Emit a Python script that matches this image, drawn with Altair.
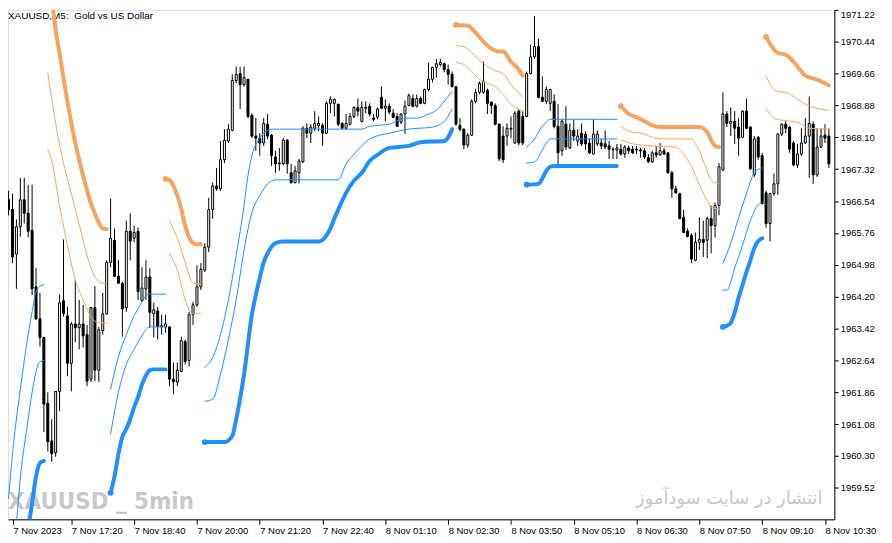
import altair as alt
import pandas as pd

# XAUUSD M5 candles, bar 0 = 7 Nov 16:00
opens = [
    1966.57, 1966.33, 1965.24, 1965.91, 1966.57, 1966.24, 1965.82, 1964.44, 1963.66, 1963.20,
    1961.59, 1960.67, 1960.38, 1961.88, 1964.10, 1963.73, 1962.57, 1963.53, 1963.44, 1963.53,
    1963.27, 1962.18, 1963.93, 1962.40, 1963.37, 1963.78, 1965.04, 1965.58, 1964.70, 1964.53,
    1963.93, 1965.80, 1965.63, 1965.80, 1964.10, 1964.39, 1964.68, 1963.78, 1963.85, 1963.46,
    1963.46, 1963.46, 1962.18, 1962.11, 1962.37, 1963.10, 1962.64, 1963.76, 1964.00, 1964.44,
    1964.85, 1965.41, 1966.33, 1966.91, 1966.84, 1967.55, 1968.01, 1968.27, 1969.49, 1969.66,
    1969.39, 1969.52, 1968.64, 1968.13, 1968.08, 1967.96, 1968.42, 1968.15, 1967.62, 1967.47,
    1967.45, 1968.03, 1967.23, 1966.99, 1967.23, 1967.50, 1968.32, 1968.20, 1968.32, 1968.39,
    1968.39, 1968.20, 1968.93, 1968.93, 1968.91, 1968.44, 1968.32, 1968.42, 1968.61, 1968.83,
    1968.49, 1968.81, 1968.86, 1968.57, 1968.59, 1969.08, 1968.81, 1968.86, 1968.69, 1968.61,
    1968.47, 1968.67, 1968.88, 1969.05, 1968.86, 1969.05, 1968.93, 1969.27, 1969.52, 1969.81,
    1969.88, 1969.90, 1969.76, 1969.64, 1969.34, 1968.39, 1968.30, 1967.91, 1968.15, 1968.98,
    1969.20, 1969.20, 1969.25, 1968.96, 1968.88, 1968.42, 1968.13, 1968.13, 1968.30, 1967.96,
    1968.74, 1968.61, 1968.61, 1969.66, 1970.07, 1970.32, 1969.08, 1968.98, 1968.93, 1968.98,
    1968.37, 1967.77, 1968.42, 1967.84, 1968.27, 1968.01, 1968.20, 1968.18, 1967.96, 1967.69,
    1967.94, 1967.96, 1967.94, 1967.89, 1967.81, 1967.79, 1967.81, 1967.69, 1967.84, 1967.81,
    1967.81, 1967.79, 1967.77, 1967.60, 1967.50, 1967.72, 1967.67, 1967.77, 1967.72, 1967.23,
    1966.84, 1966.72, 1966.14, 1965.80, 1965.70, 1965.09, 1965.53, 1965.60, 1965.58, 1966.11,
    1965.94, 1966.43, 1967.30, 1968.67, 1968.44, 1968.49, 1968.35, 1968.10, 1968.74, 1968.35,
    1967.18, 1968.10, 1967.65, 1966.74, 1965.99, 1966.72, 1966.96, 1968.18, 1968.42, 1968.35,
    1967.96, 1967.42, 1967.69, 1967.96, 1968.13, 1968.42, 1967.18, 1967.86, 1968.15, 1968.13,
]
highs = [
    1966.79, 1966.72, 1966.09, 1967.11, 1967.11, 1966.94, 1966.94, 1964.90, 1964.29, 1963.22,
    1961.86, 1961.20, 1961.88, 1964.26, 1965.60, 1963.95, 1963.58, 1964.61, 1964.12, 1964.00,
    1963.51, 1963.95, 1964.46, 1963.46, 1964.29, 1965.09, 1966.60, 1965.87, 1965.09, 1964.56,
    1966.06, 1966.24, 1965.94, 1965.89, 1964.92, 1965.09, 1964.90, 1964.05, 1963.95, 1963.76,
    1963.76, 1963.46, 1962.59, 1962.59, 1963.22, 1963.15, 1963.83, 1964.07, 1964.97, 1965.02,
    1965.51, 1966.62, 1966.99, 1967.35, 1968.01, 1968.30, 1968.42, 1969.64, 1969.83, 1969.83,
    1969.83, 1969.52, 1968.69, 1968.57, 1968.20, 1968.57, 1968.67, 1968.18, 1967.77, 1967.84,
    1968.08, 1968.06, 1967.45, 1967.40, 1967.57, 1968.37, 1968.44, 1968.42, 1968.74, 1968.61,
    1968.44, 1968.98, 1969.10, 1969.05, 1968.91, 1968.47, 1968.67, 1968.69, 1968.86, 1969.05,
    1968.98, 1968.98, 1968.93, 1968.67, 1968.83, 1969.34, 1969.03, 1968.93, 1968.79, 1968.69,
    1968.69, 1969.00, 1969.17, 1969.15, 1969.15, 1969.10, 1969.29, 1969.93, 1969.83, 1970.02,
    1970.02, 1969.93, 1969.88, 1969.71, 1969.34, 1968.57, 1968.32, 1968.20, 1969.03, 1969.29,
    1969.47, 1969.95, 1969.29, 1968.98, 1968.93, 1968.44, 1968.37, 1968.44, 1968.61, 1968.74,
    1968.79, 1968.74, 1969.71, 1970.37, 1971.07, 1970.51, 1969.59, 1969.34, 1969.29, 1969.15,
    1968.91, 1968.54, 1968.86, 1968.44, 1968.54, 1968.30, 1968.44, 1968.25, 1968.08, 1968.54,
    1968.27, 1968.06, 1968.27, 1968.01, 1967.86, 1967.94, 1967.94, 1967.91, 1967.89, 1967.89,
    1967.89, 1967.84, 1967.84, 1967.69, 1967.77, 1967.89, 1967.96, 1967.84, 1967.72, 1967.28,
    1966.91, 1966.74, 1966.33, 1965.87, 1965.75, 1965.77, 1966.14, 1966.06, 1966.16, 1966.43,
    1966.50, 1967.47, 1969.20, 1968.74, 1968.83, 1968.74, 1968.57, 1968.76, 1969.05, 1968.37,
    1968.13, 1968.13, 1967.72, 1966.79, 1966.74, 1967.21, 1968.20, 1968.44, 1968.49, 1968.37,
    1968.01, 1967.94, 1968.32, 1968.57, 1969.10, 1968.49, 1968.32, 1968.32, 1968.42, 1968.32,
]
lows = [
    1966.19, 1965.02, 1964.39, 1965.67, 1965.99, 1965.65, 1964.24, 1963.63, 1962.98, 1960.89,
    1960.41, 1960.16, 1960.28, 1961.40, 1963.71, 1962.25, 1961.88, 1963.08, 1962.91, 1962.96,
    1962.01, 1962.11, 1962.13, 1962.11, 1963.27, 1963.76, 1964.92, 1964.68, 1964.51, 1963.22,
    1963.83, 1965.09, 1965.53, 1964.12, 1964.07, 1964.12, 1963.44, 1963.20, 1963.15, 1963.27,
    1963.32, 1962.01, 1961.81, 1962.01, 1962.35, 1962.54, 1962.49, 1963.51, 1963.95, 1964.36,
    1964.80, 1965.29, 1966.11, 1966.79, 1966.79, 1967.47, 1967.96, 1968.25, 1969.42, 1968.79,
    1969.34, 1968.57, 1968.08, 1967.77, 1967.65, 1967.89, 1968.06, 1967.40, 1967.23, 1967.28,
    1967.42, 1967.21, 1966.97, 1966.97, 1966.97, 1967.47, 1968.08, 1967.96, 1968.25, 1968.25,
    1967.89, 1968.18, 1968.69, 1968.61, 1968.37, 1968.30, 1968.30, 1968.39, 1968.57, 1968.61,
    1968.47, 1968.69, 1968.61, 1968.50, 1968.54, 1968.79, 1968.49, 1968.67, 1968.57, 1968.35,
    1968.42, 1968.18, 1968.86, 1968.83, 1968.83, 1968.91, 1968.91, 1969.22, 1969.44, 1969.56,
    1969.83, 1969.69, 1969.39, 1969.32, 1968.39, 1968.25, 1967.81, 1967.84, 1968.13, 1968.93,
    1969.15, 1969.17, 1968.67, 1968.67, 1968.39, 1967.52, 1967.47, 1967.89, 1968.08, 1967.94,
    1967.91, 1967.91, 1968.59, 1969.64, 1970.02, 1969.05, 1968.96, 1968.91, 1968.74, 1968.32,
    1967.35, 1967.65, 1967.79, 1967.81, 1968.01, 1967.89, 1967.89, 1967.79, 1967.69, 1967.69,
    1967.89, 1967.81, 1967.81, 1967.57, 1967.57, 1967.57, 1967.65, 1967.60, 1967.69, 1967.69,
    1967.69, 1967.60, 1967.57, 1967.47, 1967.47, 1967.60, 1967.65, 1967.67, 1967.21, 1966.62,
    1966.72, 1966.09, 1965.75, 1965.65, 1965.02, 1965.07, 1965.34, 1965.17, 1965.14, 1965.26,
    1965.65, 1966.19, 1967.28, 1968.35, 1968.13, 1967.94, 1967.65, 1968.08, 1968.30, 1967.30,
    1967.13, 1967.55, 1966.45, 1965.89, 1965.55, 1966.67, 1966.69, 1968.13, 1968.20, 1967.72,
    1967.40, 1967.35, 1967.65, 1967.94, 1967.11, 1966.96, 1967.13, 1967.84, 1967.96, 1967.35,
]
closes = [
    1966.33, 1965.17, 1965.91, 1966.57, 1966.24, 1965.80, 1964.39, 1963.66, 1963.20, 1961.57,
    1960.65, 1960.36, 1961.88, 1964.05, 1963.78, 1962.57, 1963.53, 1963.44, 1963.53, 1963.24,
    1962.13, 1963.93, 1962.40, 1963.39, 1963.78, 1965.04, 1965.63, 1964.70, 1964.53, 1963.90,
    1965.80, 1965.56, 1965.77, 1964.32, 1964.41, 1964.68, 1963.81, 1963.88, 1963.46, 1963.49,
    1963.53, 1962.18, 1962.11, 1962.40, 1963.12, 1962.61, 1963.76, 1964.00, 1964.44, 1964.87,
    1965.41, 1966.33, 1966.91, 1966.84, 1967.55, 1968.03, 1968.30, 1969.49, 1969.64, 1969.39,
    1969.56, 1968.61, 1968.13, 1968.08, 1967.96, 1968.44, 1968.13, 1967.65, 1967.45, 1967.45,
    1968.03, 1967.45, 1966.99, 1967.28, 1967.52, 1968.32, 1968.20, 1968.35, 1968.44, 1968.44,
    1968.20, 1968.93, 1969.03, 1969.03, 1968.42, 1968.32, 1968.44, 1968.61, 1968.83, 1968.74,
    1968.83, 1968.83, 1968.67, 1968.54, 1968.79, 1968.81, 1968.86, 1968.72, 1968.59, 1968.37,
    1968.67, 1968.86, 1969.12, 1968.86, 1969.05, 1968.93, 1969.27, 1969.52, 1969.81, 1969.90,
    1969.93, 1969.76, 1969.64, 1969.34, 1968.42, 1968.30, 1967.91, 1968.15, 1968.98, 1969.20,
    1969.42, 1969.47, 1968.93, 1968.88, 1968.42, 1967.57, 1967.55, 1968.32, 1968.32, 1968.69,
    1967.96, 1967.96, 1969.66, 1970.07, 1970.32, 1969.08, 1968.98, 1969.27, 1969.27, 1968.37,
    1967.72, 1968.49, 1967.86, 1968.27, 1968.13, 1968.13, 1967.94, 1967.94, 1967.72, 1968.18,
    1968.18, 1967.89, 1967.86, 1967.81, 1967.79, 1967.84, 1967.69, 1967.86, 1967.77, 1967.72,
    1967.79, 1967.77, 1967.62, 1967.50, 1967.72, 1967.67, 1967.77, 1967.69, 1967.23, 1966.84,
    1966.74, 1966.11, 1965.77, 1965.67, 1965.12, 1965.53, 1965.60, 1965.53, 1966.11, 1965.94,
    1966.43, 1967.38, 1968.67, 1968.44, 1968.49, 1968.32, 1968.08, 1968.74, 1968.32, 1967.33,
    1968.06, 1967.62, 1966.48, 1965.99, 1966.72, 1966.96, 1968.18, 1968.42, 1968.32, 1967.81,
    1967.42, 1967.69, 1967.96, 1968.13, 1968.44, 1967.18, 1967.86, 1968.13, 1968.08, 1967.45,
]

# time labels every 16 bars (first one sits at the left edge)
tick_bars = [1.125, 16, 32, 48, 64, 80, 96, 112, 128, 144, 160, 176, 192, 208]
tick_labels = ["7 Nov 2023", "7 Nov 17:20", "7 Nov 18:40", "7 Nov 20:00", "7 Nov 21:20",
               "7 Nov 22:40", "8 Nov 01:10", "8 Nov 02:30", "8 Nov 03:50", "8 Nov 05:10",
               "8 Nov 06:30", "8 Nov 07:50", "8 Nov 09:10", "8 Nov 10:30"]
price_ticks = [1959.52, 1960.30, 1961.08, 1961.86, 1962.64, 1963.42, 1964.20, 1964.98,
               1965.76, 1966.54, 1967.32, 1968.10, 1968.88, 1969.66, 1970.44, 1971.22]

# indicator lines, (bar, price) vertices per segment
sell_main = [
    [(11, 1971.53), (12, 1970.73), (13, 1970.15), (15, 1968.98), (17, 1967.96), (19, 1967.16),
     (21, 1966.48), (22, 1966.23), (23, 1966.01), (24, 1965.87), (25, 1965.85)],
    [(40, 1967.08), (41, 1967.06), (42, 1966.91), (43, 1966.67), (44, 1966.35), (45, 1965.94),
     (46, 1965.65), (47, 1965.51), (48, 1965.48), (49, 1965.48)],
    [(114, 1970.85), (117, 1970.83), (119, 1970.66), (121, 1970.44), (123, 1970.27),
     (125, 1970.20), (126, 1970.20), (128, 1969.95), (130, 1969.76), (131, 1969.61)],
    [(156, 1968.86), (157, 1968.76), (158, 1968.67), (160, 1968.59), (162, 1968.49),
     (164, 1968.39), (166, 1968.35), (176, 1968.35), (177, 1968.32), (178, 1968.23),
     (179, 1968.03), (180, 1967.89), (181, 1967.86)],
    [(193, 1970.56), (194, 1970.39), (195, 1970.25), (196, 1970.17), (198, 1970.12),
     (199, 1970.05), (200, 1969.95), (202, 1969.71), (203, 1969.61), (205, 1969.54),
     (207, 1969.47), (209, 1969.37)],
]
sell_outer = [
    [(10, 1969.68), (12, 1968.44), (14, 1967.47), (16, 1966.72), (18, 1965.97), (20, 1965.21),
     (22, 1964.68), (24, 1964.53), (25, 1964.53)],
    [(41, 1966.06), (43, 1965.63), (45, 1965.04), (46, 1964.73), (47, 1964.53), (49, 1964.51)],
    [(114, 1970.34), (116, 1970.32), (118, 1970.17), (121, 1969.90), (124, 1969.73),
     (126, 1969.66), (128, 1969.39), (131, 1969.10)],
    [(156, 1968.37), (158, 1968.25), (162, 1968.18), (164, 1968.10), (167, 1968.06),
     (174, 1968.06), (175, 1967.94), (176, 1967.77), (177, 1967.52), (178, 1967.28),
     (179, 1967.06), (181, 1966.96)],
    [(193, 1969.59), (195, 1969.27), (196, 1969.22), (198, 1969.20), (201, 1969.03),
     (203, 1968.91), (206, 1968.81), (209, 1968.76)],
]
sell_inner = [
    [(10, 1967.79), (11, 1967.52), (13, 1966.43), (15, 1965.46), (17, 1964.61), (19, 1964.12),
     (21, 1963.71), (23, 1963.56), (25, 1963.56)],
    [(41, 1965.26), (43, 1964.85), (45, 1964.12), (46, 1963.88), (47, 1963.78), (49, 1963.78)],
    [(114, 1969.93), (116, 1969.88), (118, 1969.71), (120, 1969.52), (122, 1969.42),
     (124, 1969.34), (126, 1969.15), (128, 1968.91), (130, 1968.79), (131, 1968.74)],
    [(156, 1968.03), (159, 1967.94), (164, 1967.89), (170, 1967.86), (172, 1967.69),
     (174, 1967.38), (176, 1966.94), (178, 1966.55), (179, 1966.38), (181, 1966.35)],
    [(193, 1968.81), (195, 1968.57), (197, 1968.52), (200, 1968.49), (202, 1968.42),
     (204, 1968.32), (209, 1968.30)],
]
buy_main = [
    [(5, 1958.53), (6, 1959.14), (7, 1959.80), (8, 1960.13), (9, 1960.18)],
    [(26, 1959.40), (27, 1959.80), (28, 1960.35), (29, 1960.77), (30, 1960.96), (31, 1961.20),
     (32, 1961.50), (33, 1961.74), (34, 1962.05), (35, 1962.27), (36, 1962.40), (37, 1962.42),
     (40, 1962.42)],
    [(50, 1960.64), (55, 1960.64), (57, 1960.79), (58, 1961.20), (60, 1962.30), (62, 1963.76),
     (63, 1964.24), (64, 1964.66), (65, 1965.04), (66, 1965.26), (68, 1965.51), (70, 1965.55),
     (79, 1965.55), (81, 1965.70), (82, 1965.87), (83, 1966.11), (84, 1966.33), (86, 1966.74),
     (88, 1967.04), (90, 1967.23), (92, 1967.52), (94, 1967.67), (97, 1967.84), (102, 1967.89),
     (105, 1967.98), (111, 1968.01), (112, 1968.10), (113, 1968.30)],
    [(132, 1966.94), (135, 1966.96), (136, 1967.09), (137, 1967.28), (138, 1967.38),
     (139, 1967.40), (155, 1967.40)],
    [(182, 1963.46), (183, 1963.49), (184, 1963.56), (185, 1963.81), (186, 1964.17),
     (187, 1964.49), (188, 1964.80), (189, 1965.09), (190, 1965.39), (191, 1965.56),
     (192, 1965.63)],
]
buy_outer = [
    [(0, 1959.26), (1, 1960.35), (3, 1961.93), (5, 1963.27), (6, 1963.83), (7, 1964.32),
     (8, 1964.46), (9, 1964.49)],
    [(26, 1961.93), (28, 1962.73), (30, 1963.27), (32, 1963.73), (34, 1964.07), (35, 1964.22),
     (36, 1964.26), (40, 1964.26)],
    [(50, 1962.47), (52, 1962.71), (54, 1963.27), (56, 1964.12), (58, 1965.21), (60, 1966.43),
     (61, 1967.16), (62, 1967.65), (64, 1968.08), (66, 1968.27), (67, 1968.30), (90, 1968.30),
     (92, 1968.37), (97, 1968.42), (101, 1968.57), (104, 1968.57), (107, 1968.67),
     (109, 1968.76), (111, 1968.98), (113, 1969.22)],
    [(132, 1967.86), (134, 1968.06), (136, 1968.37), (137, 1968.47), (138, 1968.54),
     (155, 1968.54)],
    [(182, 1965.02), (184, 1965.51), (186, 1966.14), (188, 1966.72), (190, 1967.23),
     (192, 1967.35)],
]
buy_inner = [
    [(2, 1958.65), (3, 1959.75), (5, 1961.20), (6, 1961.86), (7, 1962.37), (8, 1962.61),
     (9, 1962.64)],
    [(26, 1960.84), (28, 1961.86), (30, 1962.54), (32, 1962.91), (34, 1963.25), (35, 1963.39),
     (36, 1963.46), (40, 1963.46)],
    [(50, 1961.64), (52, 1961.69), (54, 1962.30), (56, 1963.15), (58, 1964.12), (60, 1965.34),
     (62, 1966.26), (64, 1966.67), (66, 1966.96), (68, 1967.06), (84, 1967.06), (86, 1967.45),
     (88, 1967.69), (90, 1967.89), (92, 1968.06), (97, 1968.20), (102, 1968.30),
     (108, 1968.35), (111, 1968.49), (113, 1968.79)],
    [(132, 1967.47), (134, 1967.50), (136, 1967.79), (137, 1967.96), (138, 1968.06),
     (155, 1968.06)],
    [(182, 1964.36), (183, 1964.36), (185, 1964.90), (187, 1965.46), (189, 1966.06),
     (191, 1966.45), (192, 1966.50)],
]

ORANGE = "#F4A460"
BLUE = "#1E90FF"
W, H = 832, 513

candles = pd.DataFrame({"bar": range(len(closes)), "open": opens, "high": highs,
                        "low": lows, "close": closes})


def seg_frame(segments, name):
    rows = []
    for k, seg in enumerate(segments):
        for bar, price in seg:
            rows.append({"bar": bar, "price": price, "seg": f"{name}{k}"})
    return pd.DataFrame(rows)


label_map = "{" + ",".join(f"'{b}':'{t}'" for b, t in zip(tick_bars, tick_labels)) + "}"

x_enc = alt.X("bar:Q", scale=alt.Scale(domain=[1.125, 209.125], nice=False, zero=False),
              axis=alt.Axis(values=tick_bars, labelExpr=label_map + "[datum.value]",
                            title=None, grid=False, tickSize=5, labelAlign="left",
                            labelFlush=False, labelOverlap=False, labelPadding=1,
                            labelFont="Liberation Sans", labelFontSize=9.5,
                            labelColor="black", tickColor="black", domainColor="black"))
y_scale = alt.Scale(domain=[1958.75, 1971.22], nice=False, zero=False)
y_axis = alt.Axis(orient="right", values=price_ticks, format=".2f", title=None, grid=False,
                  tickSize=4, labelPadding=2, labelFont="Liberation Sans", labelFontSize=9.5,
                  labelFlush=True, labelColor="black", tickColor="black", domainColor="black")

header = alt.Chart(pd.DataFrame({"t": ["XAUUSD,M5:\u00a0 Gold vs US Dollar"]})).mark_text(
    align="left", baseline="top", font="Liberation Sans", fontSize=10, color="black"
).encode(x=alt.value(0), y=alt.value(1), text="t:N")

mark_wm = alt.Chart(pd.DataFrame({"t": ["XAUUSD _ 5min"]})).mark_text(
    align="left", baseline="alphabetic",
    font="DejaVu Sans Condensed, Roboto Condensed, Liberation Sans",
    fontSize=24, fontWeight="bold", color="#c8c8c8"
).encode(x=alt.value(0), y=alt.value(503), text="t:N")

site_wm = alt.Chart(pd.DataFrame({"t": ["انتشار در سایت سودآموز"]})).mark_text(
    align="right", baseline="alphabetic", font="DejaVu Sans", fontSize=18, color="#c8c8c8"
).encode(x=alt.value(820), y=alt.value(498), text="t:N")

wicks = alt.Chart(candles).mark_rule(color="black", strokeWidth=1, clip=True).encode(
    x=x_enc, y=alt.Y("high:Q", scale=y_scale, axis=y_axis), y2="low:Q")

bodies = alt.Chart(candles).mark_bar(size=2, stroke="black", strokeWidth=1, clip=True).encode(
    x=x_enc, y=alt.Y("open:Q", scale=y_scale, axis=y_axis), y2="close:Q",
    fill=alt.condition("datum.close >= datum.open", alt.value("white"), alt.value("black")))


def lines(segments, name, color, width):
    return alt.Chart(seg_frame(segments, name)).mark_line(
        color=color, strokeWidth=width, interpolate="monotone", clip=True,
        strokeCap="round", strokeJoin="round"
    ).encode(x=x_enc, y=alt.Y("price:Q", scale=y_scale, axis=y_axis), detail="seg:N")


starts = pd.DataFrame(
    [{"bar": s[0][0], "price": s[0][1], "side": "sell"} for s in sell_main]
    + [{"bar": s[0][0], "price": s[0][1], "side": "buy"} for s in buy_main])
dots = alt.Chart(starts).mark_circle(size=34, opacity=1, clip=True).encode(
    x=x_enc, y=alt.Y("price:Q", scale=y_scale, axis=y_axis),
    color=alt.Color("side:N", scale=alt.Scale(domain=["sell", "buy"], range=[ORANGE, BLUE]),
                    legend=None))

chart = alt.layer(
    mark_wm, site_wm, header, wicks, bodies,
    lines(sell_outer, "so", ORANGE, 1), lines(sell_inner, "si", ORANGE, 1),
    lines(buy_outer, "bo", BLUE, 1), lines(buy_inner, "bi", BLUE, 1),
    lines(sell_main, "sm", ORANGE, 4), lines(buy_main, "bm", BLUE, 4), dots
).properties(
    width=W, height=H, autosize="none",
    padding={"left": 0, "top": 0, "right": 50, "bottom": 22}
).configure_view(stroke="black", strokeWidth=1).configure(background="white")

chart.save("out.html", embed_options={"renderer": "svg", "actions": False})
